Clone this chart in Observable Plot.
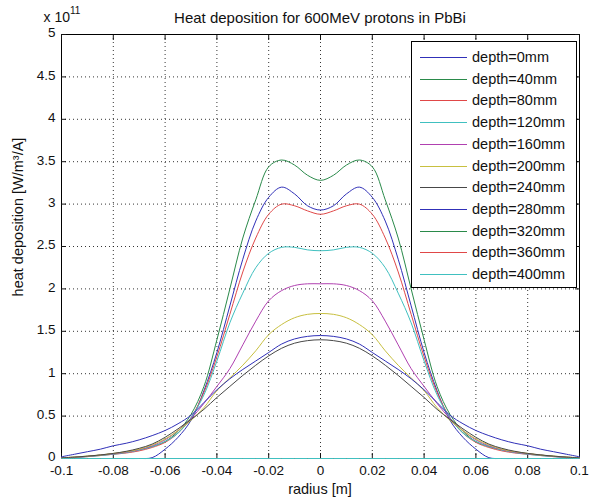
<!DOCTYPE html>
<html>
<head>
<meta charset="utf-8">
<script src="https://cdn.jsdelivr.net/npm/d3@7"></script>
<script src="https://cdn.jsdelivr.net/npm/@observablehq/plot@0.6"></script>
<style>
  body { margin: 0; background: #fff; }
  #wrap { position: relative; width: 590px; height: 501px; font-family: "Liberation Sans", Arial, sans-serif; }
  #legend { position: absolute; left: 411px; top: 41px; width: 166px; height: 247px; background: #fff; border: 1px solid #000; box-sizing: border-box; }
  .row { position: absolute; left: 0; height: 20px; width: 164px; }
  .row svg { position: absolute; left: 0; top: 0; }
  .row span { position: absolute; left: 60px; top: 1px; font-size: 14.5px; line-height: 18px; color: #111; white-space: nowrap; }
</style>
</head>
<body>
<div id="wrap"><div id="chart"></div><div id="legend"></div></div>
<script>
// radius positions [m]
const radius = [-0.1,-0.095,-0.09,-0.085,-0.08,-0.075,-0.07,-0.065,-0.06,-0.055,-0.05,-0.045,-0.04,-0.035,-0.03,-0.025,-0.02,-0.015,-0.01,-0.005,0,0.005,0.01,0.015,0.02,0.025,0.03,0.035,0.04,0.045,0.05,0.055,0.06,0.065,0.07,0.075,0.08,0.085,0.09,0.095,0.1];

// heat deposition, units of 1e11 W/m^3/A
const d0   = [0,0,0,0,0,0,0,0.01,0.11,0.25,0.45,0.80,1.25,1.80,2.35,2.80,3.08,3.20,3.12,2.98,2.93,2.98,3.12,3.20,3.08,2.80,2.35,1.80,1.25,0.80,0.45,0.25,0.11,0.01,0,0,0,0,0,0,0];
const d40  = [0.008,0.015,0.025,0.04,0.055,0.075,0.10,0.14,0.20,0.32,0.52,0.85,1.40,2.00,2.60,3.05,3.44,3.52,3.46,3.34,3.28,3.34,3.46,3.52,3.44,3.05,2.60,2.00,1.40,0.85,0.52,0.32,0.20,0.14,0.10,0.075,0.055,0.04,0.025,0.015,0.008];
const d80  = [0.006,0.012,0.022,0.035,0.05,0.065,0.09,0.13,0.19,0.30,0.48,0.78,1.20,1.70,2.20,2.60,2.88,3.00,2.98,2.92,2.88,2.92,2.98,3.00,2.88,2.60,2.20,1.70,1.20,0.78,0.48,0.30,0.19,0.13,0.09,0.065,0.05,0.035,0.022,0.012,0.006];
const d120 = [0.006,0.012,0.022,0.035,0.05,0.07,0.10,0.14,0.20,0.30,0.48,0.75,1.15,1.60,1.95,2.25,2.42,2.49,2.49,2.46,2.45,2.46,2.49,2.49,2.42,2.25,1.95,1.60,1.15,0.75,0.48,0.30,0.20,0.14,0.10,0.07,0.05,0.035,0.022,0.012,0.006];
const d160 = [0.008,0.015,0.025,0.04,0.055,0.075,0.105,0.15,0.22,0.33,0.47,0.65,0.85,1.06,1.34,1.62,1.86,1.98,2.04,2.06,2.06,2.06,2.04,1.98,1.86,1.62,1.34,1.06,0.85,0.65,0.47,0.33,0.22,0.15,0.105,0.075,0.055,0.04,0.025,0.015,0.008];
const d200 = [0.009,0.017,0.028,0.04,0.06,0.08,0.11,0.16,0.23,0.33,0.45,0.60,0.80,0.95,1.10,1.27,1.46,1.58,1.66,1.70,1.71,1.70,1.66,1.58,1.46,1.27,1.10,0.95,0.80,0.60,0.45,0.33,0.23,0.16,0.11,0.08,0.06,0.04,0.028,0.017,0.009];
const d240 = [0.008,0.016,0.028,0.042,0.06,0.085,0.12,0.17,0.25,0.35,0.46,0.58,0.72,0.85,0.98,1.10,1.21,1.30,1.36,1.39,1.40,1.39,1.36,1.30,1.21,1.10,0.98,0.85,0.72,0.58,0.46,0.35,0.25,0.17,0.12,0.085,0.06,0.042,0.028,0.016,0.008];
const d280 = [0.02,0.05,0.08,0.11,0.15,0.18,0.22,0.27,0.33,0.41,0.51,0.66,0.81,0.94,1.05,1.15,1.25,1.35,1.41,1.44,1.45,1.44,1.41,1.35,1.25,1.15,1.05,0.94,0.81,0.66,0.51,0.41,0.33,0.27,0.22,0.18,0.15,0.11,0.08,0.05,0.02];
const d320 = [0,0,0,0,0,0,0,0,0,0,0,0,0,0,0,0,0,0,0,0,0,0,0,0,0,0,0,0,0,0,0,0,0,0,0,0,0,0,0,0,0];
const d360 = [0,0,0,0,0,0,0,0,0,0,0,0,0,0,0,0,0,0,0,0,0,0,0,0,0,0,0,0,0,0,0,0,0,0,0,0,0,0,0,0,0];
const d400 = [0,0,0,0,0,0,0,0,0,0,0,0,0,0,0,0,0,0,0,0,0,0,0,0,0,0,0,0,0,0,0,0,0,0,0,0,0,0,0,0,0];

const depthLabels = ["depth=0mm","depth=40mm","depth=80mm","depth=120mm","depth=160mm","depth=200mm","depth=240mm","depth=280mm","depth=320mm","depth=360mm","depth=400mm"];
const lineColors = ["#3030b8","#2a8a4a","#e04848","#40c0c0","#b040b0","#c8c040","#484848","#3030b8","#2a8a4a","#e04848","#40c0c0"];
const xTicks = [-0.1,-0.08,-0.06,-0.04,-0.02,0,0.02,0.04,0.06,0.08,0.1];
const yTicks = [0,0.5,1,1.5,2,2.5,3,3.5,4,4.5,5];

const seriesValues = [d0,d40,d80,d120,d160,d200,d240,d280,d320,d360,d400];
const data = seriesValues.flatMap((vals, k) => radius.map((r, i) => ({r, v: vals[i], depth: depthLabels[k]})));

const fmt = d => String(+d.toFixed(2));

const chart = Plot.plot({
  width: 590, height: 501,
  marginLeft: 61, marginRight: 11, marginTop: 34, marginBottom: 43,
  style: {fontFamily: "'Liberation Sans', Arial, sans-serif", fontSize: "13.5px", background: "white", color: "#111", overflow: "visible"},
  x: {domain: [-0.1, 0.1]},
  y: {domain: [0, 5]},
  color: {domain: depthLabels, range: lineColors},
  marks: [
    Plot.gridX(xTicks.slice(1, -1), {stroke: "#000", strokeOpacity: 0.8, strokeDasharray: "1,3"}),
    Plot.gridY(yTicks.slice(1, -1), {stroke: "#000", strokeOpacity: 0.8, strokeDasharray: "1,3"}),
    Plot.frame({stroke: "#000"}),
    Plot.axisX(xTicks, {anchor: "bottom", tickSize: -5, tickPadding: 12, tickFormat: fmt, label: null}),
    Plot.axisX(xTicks, {anchor: "top", tickSize: -5, tickFormat: () => "", label: null}),
    Plot.axisY(yTicks, {anchor: "left", tickSize: -5, tickFormat: () => "", label: null}),
    Plot.axisY(yTicks, {anchor: "left", tickSize: 0, tickPadding: 6, dy: -1.5, tickFormat: fmt, label: null}),
    Plot.axisY(yTicks, {anchor: "right", tickSize: -5, tickFormat: () => "", label: null}),
    Plot.line(data, {x: "r", y: "v", stroke: "depth", z: "depth", strokeWidth: 1, curve: "catmull-rom"})
  ]
});
document.getElementById("chart").appendChild(chart);

const svg = d3.select(chart);
const font = "'Liberation Sans', Arial, sans-serif";
svg.append("text").attr("x", 320).attr("y", 23).attr("text-anchor", "middle")
  .attr("font-family", font).attr("font-size", 15).attr("fill", "#111")
  .text("Heat deposition for 600MeV protons in PbBi");
const ex = svg.append("text").attr("x", 62).attr("y", 22).attr("font-family", font).attr("font-size", 14).attr("fill", "#111");
ex.append("tspan").text("x 10");
ex.append("tspan").attr("dy", -8).attr("font-size", 10).text("11");
svg.append("text").attr("x", 320).attr("y", 494).attr("text-anchor", "middle")
  .attr("font-family", font).attr("font-size", 14.5).attr("fill", "#111").text("radius [m]");
svg.append("text").attr("transform", "translate(23,217) rotate(-90)").attr("text-anchor", "middle")
  .attr("font-family", font).attr("font-size", 14.5).attr("fill", "#111").text("heat deposition [W/m³/A]");

// legend
const legend = document.getElementById("legend");
depthLabels.forEach((lab, i) => {
  const row = document.createElement("div");
  row.className = "row";
  row.style.top = (5 + i * 21.7) + "px";
  row.innerHTML = `<svg width="60" height="20"><line x1="8" x2="55" y1="10.5" y2="10.5" stroke="${lineColors[i]}" stroke-width="1"/></svg><span>${lab}</span>`;
  legend.appendChild(row);
});
</script>
</body>
</html>
